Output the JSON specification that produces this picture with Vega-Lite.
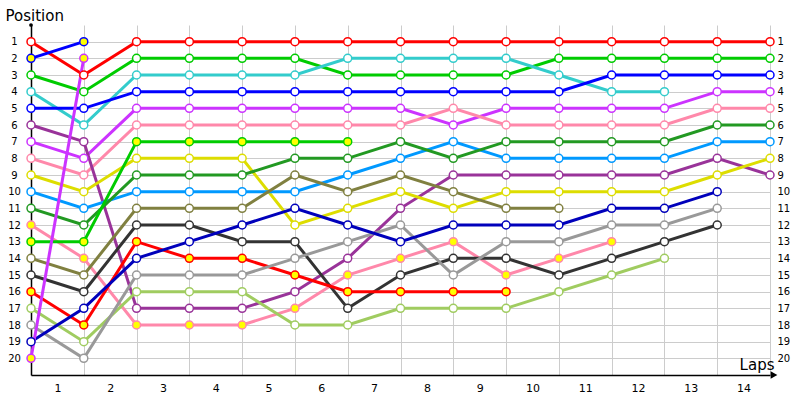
{
  "$schema": "https://vega.github.io/schema/vega-lite/v6.json",
  "width": 739,
  "height": 350,
  "autosize": {"type": "none"},
  "padding": {"left": 31, "top": 25, "right": 30, "bottom": 25},
  "background": "white",
  "config": {"view": {"stroke": null}, "font": "DejaVu Sans"},
  "data": {"values": [
    {"d":"A","lap":0,"pos":1,"st":"ok"},{"d":"A","lap":1,"pos":3,"st":"ok"},{"d":"A","lap":2,"pos":1,"st":"ok"},{"d":"A","lap":3,"pos":1,"st":"ok"},{"d":"A","lap":4,"pos":1,"st":"ok"},{"d":"A","lap":5,"pos":1,"st":"ok"},{"d":"A","lap":6,"pos":1,"st":"ok"},{"d":"A","lap":7,"pos":1,"st":"ok"},{"d":"A","lap":8,"pos":1,"st":"ok"},{"d":"A","lap":9,"pos":1,"st":"ok"},{"d":"A","lap":10,"pos":1,"st":"ok"},{"d":"A","lap":11,"pos":1,"st":"ok"},{"d":"A","lap":12,"pos":1,"st":"ok"},{"d":"A","lap":13,"pos":1,"st":"ok"},{"d":"A","lap":14,"pos":1,"st":"ok"},
    {"d":"B","lap":0,"pos":3,"st":"ok"},{"d":"B","lap":1,"pos":4,"st":"ok"},{"d":"B","lap":2,"pos":2,"st":"ok"},{"d":"B","lap":3,"pos":2,"st":"ok"},{"d":"B","lap":4,"pos":2,"st":"ok"},{"d":"B","lap":5,"pos":2,"st":"ok"},{"d":"B","lap":6,"pos":3,"st":"ok"},{"d":"B","lap":7,"pos":3,"st":"ok"},{"d":"B","lap":8,"pos":3,"st":"ok"},{"d":"B","lap":9,"pos":3,"st":"ok"},{"d":"B","lap":10,"pos":2,"st":"ok"},{"d":"B","lap":11,"pos":2,"st":"ok"},{"d":"B","lap":12,"pos":2,"st":"ok"},{"d":"B","lap":13,"pos":2,"st":"ok"},{"d":"B","lap":14,"pos":2,"st":"ok"},
    {"d":"C","lap":0,"pos":4,"st":"ok"},{"d":"C","lap":1,"pos":6,"st":"ok"},{"d":"C","lap":2,"pos":3,"st":"ok"},{"d":"C","lap":3,"pos":3,"st":"ok"},{"d":"C","lap":4,"pos":3,"st":"ok"},{"d":"C","lap":5,"pos":3,"st":"ok"},{"d":"C","lap":6,"pos":2,"st":"ok"},{"d":"C","lap":7,"pos":2,"st":"ok"},{"d":"C","lap":8,"pos":2,"st":"ok"},{"d":"C","lap":9,"pos":2,"st":"ok"},{"d":"C","lap":10,"pos":3,"st":"ok"},{"d":"C","lap":11,"pos":4,"st":"ok"},{"d":"C","lap":12,"pos":4,"st":"ok"},
    {"d":"D","lap":0,"pos":5,"st":"ok"},{"d":"D","lap":1,"pos":5,"st":"ok"},{"d":"D","lap":2,"pos":4,"st":"ok"},{"d":"D","lap":3,"pos":4,"st":"ok"},{"d":"D","lap":4,"pos":4,"st":"ok"},{"d":"D","lap":5,"pos":4,"st":"ok"},{"d":"D","lap":6,"pos":4,"st":"ok"},{"d":"D","lap":7,"pos":4,"st":"ok"},{"d":"D","lap":8,"pos":4,"st":"ok"},{"d":"D","lap":9,"pos":4,"st":"ok"},{"d":"D","lap":10,"pos":4,"st":"ok"},{"d":"D","lap":11,"pos":3,"st":"ok"},{"d":"D","lap":12,"pos":3,"st":"ok"},{"d":"D","lap":13,"pos":3,"st":"ok"},{"d":"D","lap":14,"pos":3,"st":"ok"},
    {"d":"E","lap":0,"pos":7,"st":"ok"},{"d":"E","lap":1,"pos":8,"st":"ok"},{"d":"E","lap":2,"pos":5,"st":"ok"},{"d":"E","lap":3,"pos":5,"st":"ok"},{"d":"E","lap":4,"pos":5,"st":"ok"},{"d":"E","lap":5,"pos":5,"st":"ok"},{"d":"E","lap":6,"pos":5,"st":"ok"},{"d":"E","lap":7,"pos":5,"st":"ok"},{"d":"E","lap":8,"pos":6,"st":"ok"},{"d":"E","lap":9,"pos":5,"st":"ok"},{"d":"E","lap":10,"pos":5,"st":"ok"},{"d":"E","lap":11,"pos":5,"st":"ok"},{"d":"E","lap":12,"pos":5,"st":"ok"},{"d":"E","lap":13,"pos":4,"st":"ok"},{"d":"E","lap":14,"pos":4,"st":"ok"},
    {"d":"F","lap":0,"pos":8,"st":"ok"},{"d":"F","lap":1,"pos":9,"st":"ok"},{"d":"F","lap":2,"pos":6,"st":"ok"},{"d":"F","lap":3,"pos":6,"st":"ok"},{"d":"F","lap":4,"pos":6,"st":"ok"},{"d":"F","lap":5,"pos":6,"st":"ok"},{"d":"F","lap":6,"pos":6,"st":"ok"},{"d":"F","lap":7,"pos":6,"st":"ok"},{"d":"F","lap":8,"pos":5,"st":"ok"},{"d":"F","lap":9,"pos":6,"st":"ok"},{"d":"F","lap":10,"pos":6,"st":"ok"},{"d":"F","lap":11,"pos":6,"st":"ok"},{"d":"F","lap":12,"pos":6,"st":"ok"},{"d":"F","lap":13,"pos":5,"st":"ok"},{"d":"F","lap":14,"pos":5,"st":"ok"},
    {"d":"G","lap":0,"pos":6,"st":"ok"},{"d":"G","lap":1,"pos":7,"st":"ok"},{"d":"G","lap":2,"pos":17,"st":"ok"},{"d":"G","lap":3,"pos":17,"st":"ok"},{"d":"G","lap":4,"pos":17,"st":"ok"},{"d":"G","lap":5,"pos":16,"st":"ok"},{"d":"G","lap":6,"pos":14,"st":"ok"},{"d":"G","lap":7,"pos":11,"st":"ok"},{"d":"G","lap":8,"pos":9,"st":"ok"},{"d":"G","lap":9,"pos":9,"st":"ok"},{"d":"G","lap":10,"pos":9,"st":"ok"},{"d":"G","lap":11,"pos":9,"st":"ok"},{"d":"G","lap":12,"pos":9,"st":"ok"},{"d":"G","lap":13,"pos":8,"st":"ok"},{"d":"G","lap":14,"pos":9,"st":"ok"},
    {"d":"H","lap":0,"pos":9,"st":"ok"},{"d":"H","lap":1,"pos":10,"st":"ok"},{"d":"H","lap":2,"pos":8,"st":"ok"},{"d":"H","lap":3,"pos":8,"st":"ok"},{"d":"H","lap":4,"pos":8,"st":"ok"},{"d":"H","lap":5,"pos":12,"st":"ok"},{"d":"H","lap":6,"pos":11,"st":"ok"},{"d":"H","lap":7,"pos":10,"st":"ok"},{"d":"H","lap":8,"pos":11,"st":"ok"},{"d":"H","lap":9,"pos":10,"st":"ok"},{"d":"H","lap":10,"pos":10,"st":"ok"},{"d":"H","lap":11,"pos":10,"st":"ok"},{"d":"H","lap":12,"pos":10,"st":"ok"},{"d":"H","lap":13,"pos":9,"st":"ok"},{"d":"H","lap":14,"pos":8,"st":"ok"},
    {"d":"I","lap":0,"pos":10,"st":"ok"},{"d":"I","lap":1,"pos":11,"st":"ok"},{"d":"I","lap":2,"pos":10,"st":"ok"},{"d":"I","lap":3,"pos":10,"st":"ok"},{"d":"I","lap":4,"pos":10,"st":"ok"},{"d":"I","lap":5,"pos":10,"st":"ok"},{"d":"I","lap":6,"pos":9,"st":"ok"},{"d":"I","lap":7,"pos":8,"st":"ok"},{"d":"I","lap":8,"pos":7,"st":"ok"},{"d":"I","lap":9,"pos":8,"st":"ok"},{"d":"I","lap":10,"pos":8,"st":"ok"},{"d":"I","lap":11,"pos":8,"st":"ok"},{"d":"I","lap":12,"pos":8,"st":"ok"},{"d":"I","lap":13,"pos":7,"st":"ok"},{"d":"I","lap":14,"pos":7,"st":"ok"},
    {"d":"J","lap":0,"pos":11,"st":"ok"},{"d":"J","lap":1,"pos":12,"st":"ok"},{"d":"J","lap":2,"pos":9,"st":"ok"},{"d":"J","lap":3,"pos":9,"st":"ok"},{"d":"J","lap":4,"pos":9,"st":"ok"},{"d":"J","lap":5,"pos":8,"st":"ok"},{"d":"J","lap":6,"pos":8,"st":"ok"},{"d":"J","lap":7,"pos":7,"st":"ok"},{"d":"J","lap":8,"pos":8,"st":"ok"},{"d":"J","lap":9,"pos":7,"st":"ok"},{"d":"J","lap":10,"pos":7,"st":"ok"},{"d":"J","lap":11,"pos":7,"st":"ok"},{"d":"J","lap":12,"pos":7,"st":"ok"},{"d":"J","lap":13,"pos":6,"st":"ok"},{"d":"J","lap":14,"pos":6,"st":"ok"},
    {"d":"K","lap":0,"pos":12,"st":"dnf"},{"d":"K","lap":1,"pos":14,"st":"dnf"},{"d":"K","lap":2,"pos":18,"st":"dnf"},{"d":"K","lap":3,"pos":18,"st":"dnf"},{"d":"K","lap":4,"pos":18,"st":"dnf"},{"d":"K","lap":5,"pos":17,"st":"dnf"},{"d":"K","lap":6,"pos":15,"st":"dnf"},{"d":"K","lap":7,"pos":14,"st":"dnf"},{"d":"K","lap":8,"pos":13,"st":"dnf"},{"d":"K","lap":9,"pos":15,"st":"dnf"},{"d":"K","lap":10,"pos":14,"st":"dnf"},{"d":"K","lap":11,"pos":13,"st":"dnf"},
    {"d":"L","lap":0,"pos":13,"st":"dnf"},{"d":"L","lap":1,"pos":13,"st":"dnf"},{"d":"L","lap":2,"pos":7,"st":"dnf"},{"d":"L","lap":3,"pos":7,"st":"dnf"},{"d":"L","lap":4,"pos":7,"st":"dnf"},{"d":"L","lap":5,"pos":7,"st":"dnf"},{"d":"L","lap":6,"pos":7,"st":"dnf"},
    {"d":"M","lap":0,"pos":14,"st":"ok"},{"d":"M","lap":1,"pos":15,"st":"ok"},{"d":"M","lap":2,"pos":11,"st":"ok"},{"d":"M","lap":3,"pos":11,"st":"ok"},{"d":"M","lap":4,"pos":11,"st":"ok"},{"d":"M","lap":5,"pos":9,"st":"ok"},{"d":"M","lap":6,"pos":10,"st":"ok"},{"d":"M","lap":7,"pos":9,"st":"ok"},{"d":"M","lap":8,"pos":10,"st":"ok"},{"d":"M","lap":9,"pos":11,"st":"ok"},{"d":"M","lap":10,"pos":11,"st":"ok"},
    {"d":"N","lap":0,"pos":15,"st":"ok"},{"d":"N","lap":1,"pos":16,"st":"ok"},{"d":"N","lap":2,"pos":12,"st":"ok"},{"d":"N","lap":3,"pos":12,"st":"ok"},{"d":"N","lap":4,"pos":13,"st":"ok"},{"d":"N","lap":5,"pos":13,"st":"ok"},{"d":"N","lap":6,"pos":17,"st":"ok"},{"d":"N","lap":7,"pos":15,"st":"ok"},{"d":"N","lap":8,"pos":14,"st":"ok"},{"d":"N","lap":9,"pos":14,"st":"ok"},{"d":"N","lap":10,"pos":15,"st":"ok"},{"d":"N","lap":11,"pos":14,"st":"ok"},{"d":"N","lap":12,"pos":13,"st":"ok"},{"d":"N","lap":13,"pos":12,"st":"ok"},
    {"d":"O","lap":0,"pos":16,"st":"dnf"},{"d":"O","lap":1,"pos":18,"st":"dnf"},{"d":"O","lap":2,"pos":13,"st":"dnf"},{"d":"O","lap":3,"pos":14,"st":"dnf"},{"d":"O","lap":4,"pos":14,"st":"dnf"},{"d":"O","lap":5,"pos":15,"st":"dnf"},{"d":"O","lap":6,"pos":16,"st":"dnf"},{"d":"O","lap":7,"pos":16,"st":"dnf"},{"d":"O","lap":8,"pos":16,"st":"dnf"},{"d":"O","lap":9,"pos":16,"st":"dnf"},
    {"d":"P","lap":0,"pos":17,"st":"ok"},{"d":"P","lap":1,"pos":19,"st":"ok"},{"d":"P","lap":2,"pos":16,"st":"ok"},{"d":"P","lap":3,"pos":16,"st":"ok"},{"d":"P","lap":4,"pos":16,"st":"ok"},{"d":"P","lap":5,"pos":18,"st":"ok"},{"d":"P","lap":6,"pos":18,"st":"ok"},{"d":"P","lap":7,"pos":17,"st":"ok"},{"d":"P","lap":8,"pos":17,"st":"ok"},{"d":"P","lap":9,"pos":17,"st":"ok"},{"d":"P","lap":10,"pos":16,"st":"ok"},{"d":"P","lap":11,"pos":15,"st":"ok"},{"d":"P","lap":12,"pos":14,"st":"ok"},
    {"d":"Q","lap":0,"pos":18,"st":"ok"},{"d":"Q","lap":1,"pos":20,"st":"ok"},{"d":"Q","lap":2,"pos":15,"st":"ok"},{"d":"Q","lap":3,"pos":15,"st":"ok"},{"d":"Q","lap":4,"pos":15,"st":"ok"},{"d":"Q","lap":5,"pos":14,"st":"ok"},{"d":"Q","lap":6,"pos":13,"st":"ok"},{"d":"Q","lap":7,"pos":12,"st":"ok"},{"d":"Q","lap":8,"pos":15,"st":"ok"},{"d":"Q","lap":9,"pos":13,"st":"ok"},{"d":"Q","lap":10,"pos":13,"st":"ok"},{"d":"Q","lap":11,"pos":12,"st":"ok"},{"d":"Q","lap":12,"pos":12,"st":"ok"},{"d":"Q","lap":13,"pos":11,"st":"ok"},
    {"d":"R","lap":0,"pos":19,"st":"ok"},{"d":"R","lap":1,"pos":17,"st":"ok"},{"d":"R","lap":2,"pos":14,"st":"ok"},{"d":"R","lap":3,"pos":13,"st":"ok"},{"d":"R","lap":4,"pos":12,"st":"ok"},{"d":"R","lap":5,"pos":11,"st":"ok"},{"d":"R","lap":6,"pos":12,"st":"ok"},{"d":"R","lap":7,"pos":13,"st":"ok"},{"d":"R","lap":8,"pos":12,"st":"ok"},{"d":"R","lap":9,"pos":12,"st":"ok"},{"d":"R","lap":10,"pos":12,"st":"ok"},{"d":"R","lap":11,"pos":11,"st":"ok"},{"d":"R","lap":12,"pos":11,"st":"ok"},{"d":"R","lap":13,"pos":10,"st":"ok"},
    {"d":"S","lap":0,"pos":2,"st":"dnf"},{"d":"S","lap":1,"pos":1,"st":"dnf"},
    {"d":"T","lap":0,"pos":20,"st":"dnf"},{"d":"T","lap":1,"pos":2,"st":"dnf"}
  ]},
  "layer": [
    {
      "mark": {"type": "line", "strokeWidth": 3},
      "encoding": {
        "x": {"field": "lap", "type": "quantitative",
          "scale": {"domain": [0, 14], "nice": false, "zero": false},
          "axis": {"values": [0,1,2,3,4,5,6,7,8,9,10,11,12,13,14], "grid": true, "gridColor": "#cccccc", "gridWidth": 1,
            "domain": true, "domainColor": "#000000", "domainWidth": 1.5, "ticks": false, "tickSize": 0,
            "labelOffset": 26.4, "labelPadding": 7, "labelFontSize": 11, "labelColor": "#000000", "labelFont": "DejaVu Sans",
            "labelOverlap": false, "labelBound": false, "labelFlush": false,
            "labelExpr": "datum.value < 14 ? '' + (datum.value + 1) : ''",
            "title": "Laps", "titleX": 743, "titleY": -6, "titleAlign": "right", "titleBaseline": "alphabetic",
            "titleFontSize": 15, "titleFontWeight": "normal", "titleFont": "DejaVu Sans", "titleColor": "#000000"}},
        "y": {"field": "pos", "type": "quantitative",
          "scale": {"domain": [0, 21], "reverse": true, "nice": false, "zero": false},
          "axis": {"orient": "left", "values": [1,2,3,4,5,6,7,8,9,10,11,12,13,14,15,16,17,18,19,20], "grid": true, "gridColor": "#cccccc", "gridWidth": 1,
            "domain": true, "domainColor": "#000000", "domainWidth": 1.5, "ticks": false, "tickSize": 0,
            "labelAlign": "center", "labelBaseline": "middle", "labelPadding": 17, "labelFontSize": 10, "labelColor": "#000000", "labelFont": "DejaVu Sans",
            "labelOverlap": false, "labelBound": false, "labelFlush": false,
            "title": "Position", "titleAngle": 0, "titleX": -26, "titleY": -5, "titleAlign": "left", "titleBaseline": "alphabetic",
            "titleFontSize": 15, "titleFontWeight": "normal", "titleFont": "DejaVu Sans", "titleColor": "#000000"}},
        "color": {"field": "d", "type": "nominal", "legend": null,
          "scale": {"domain": ["A","B","C","D","E","F","G","H","I","J","K","L","M","N","O","P","Q","R","S","T"],
            "range": ["#ff0000","#00cc00","#33cccc","#0000ff","#cc33ff","#ff88aa","#993399","#dddd00","#0099ff","#229922","#ff88aa","#00cc00","#808040","#333333","#ff0000","#a0cc60","#999999","#0000bb","#0000ff","#cc33ff"]}}
      }
    },
    {
      "mark": {"type": "point", "shape": "circle", "filled": true, "size": 64, "strokeWidth": 1.5, "opacity": 1},
      "encoding": {
        "x": {"field": "lap", "type": "quantitative", "scale": {"domain": [0, 14], "nice": false, "zero": false},
          "axis": {"values": [0,1,2,3,4,5,6,7,8,9,10,11,12,13,14], "grid": true, "gridColor": "#cccccc", "gridWidth": 1,
            "domain": true, "domainColor": "#000000", "domainWidth": 1.5, "ticks": false, "tickSize": 0,
            "labelOffset": 26.4, "labelPadding": 7, "labelFontSize": 11, "labelColor": "#000000", "labelFont": "DejaVu Sans",
            "labelOverlap": false, "labelBound": false, "labelFlush": false,
            "labelExpr": "datum.value < 14 ? '' + (datum.value + 1) : ''",
            "title": "Laps", "titleX": 743, "titleY": -6, "titleAlign": "right", "titleBaseline": "alphabetic",
            "titleFontSize": 15, "titleFontWeight": "normal", "titleFont": "DejaVu Sans", "titleColor": "#000000"}},
        "y": {"field": "pos", "type": "quantitative",
          "scale": {"domain": [0, 21], "reverse": true, "nice": false, "zero": false},
          "axis": {"orient": "right", "values": [1,2,3,4,5,6,7,8,9,10,11,12,13,14,15,16,17,18,19,20], "grid": false,
            "domain": false, "ticks": false, "tickSize": 0,
            "labelAlign": "left", "labelBaseline": "middle", "labelPadding": 7, "labelFontSize": 10, "labelColor": "#000000", "labelFont": "DejaVu Sans",
            "labelOverlap": false, "labelBound": false, "labelFlush": false, "title": null}},
        "stroke": {"field": "d", "type": "nominal", "legend": null,
          "scale": {"domain": ["A","B","C","D","E","F","G","H","I","J","K","L","M","N","O","P","Q","R","S","T"],
            "range": ["#ff0000","#00cc00","#33cccc","#0000ff","#cc33ff","#ff88aa","#993399","#dddd00","#0099ff","#229922","#ff88aa","#00cc00","#808040","#333333","#ff0000","#a0cc60","#999999","#0000bb","#0000ff","#cc33ff"]}},
        "fill": {"field": "st", "type": "nominal", "legend": null,
          "scale": {"domain": ["ok", "dnf"], "range": ["#ffffff", "#ffff00"]}}
      }
    },
    {
      "data": {"values": [{}]},
      "mark": {"type": "point", "shape": "triangle-right", "filled": true, "size": 60, "color": "#000000", "opacity": 1, "xOffset": 4, "clip": false},
      "encoding": {
        "x": {"datum": 14, "type": "quantitative", "scale": {"domain": [0, 14], "nice": false, "zero": false}},
        "y": {"datum": 21, "type": "quantitative", "scale": {"domain": [0, 21], "reverse": true, "nice": false, "zero": false}, "axis": null}
      }
    },
    {
      "data": {"values": [{}]},
      "mark": {"type": "point", "shape": "circle", "filled": true, "size": 14, "color": "#000000", "opacity": 1},
      "encoding": {
        "x": {"datum": 0, "type": "quantitative", "scale": {"domain": [0, 14], "nice": false, "zero": false}},
        "y": {"datum": 0, "type": "quantitative", "scale": {"domain": [0, 21], "reverse": true, "nice": false, "zero": false}, "axis": null}
      }
    }
  ],
  "resolve": {"axis": {"y": "independent"}}
}
